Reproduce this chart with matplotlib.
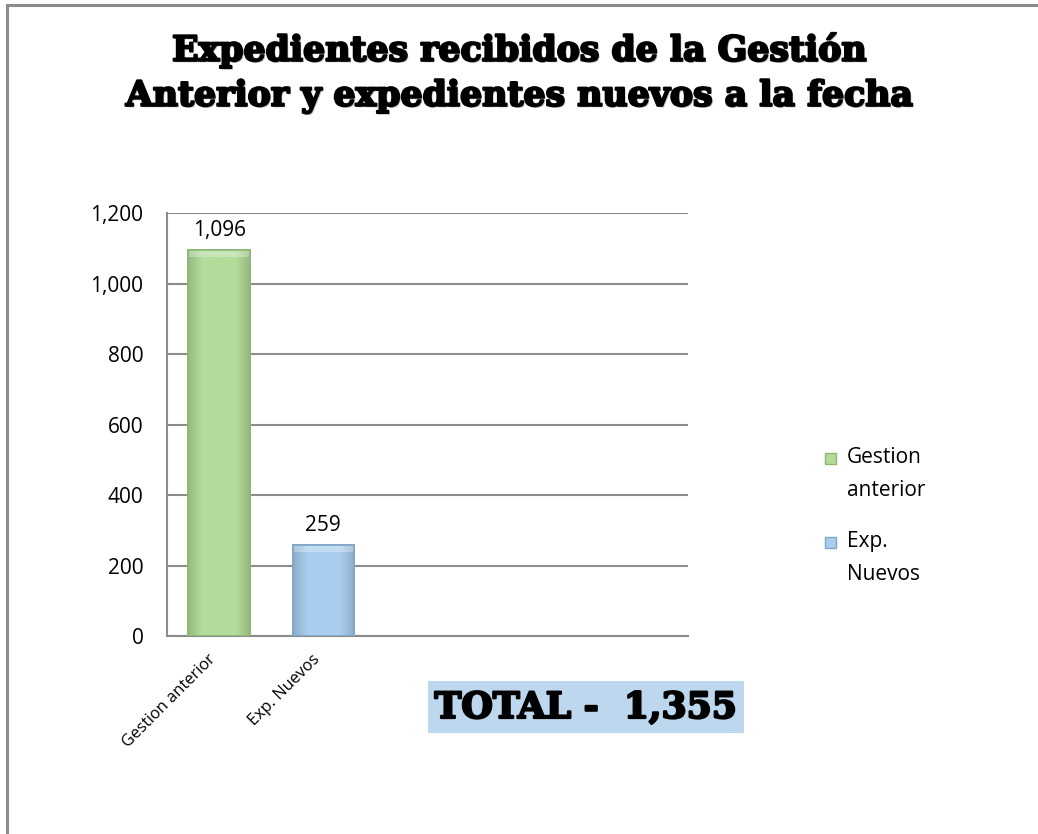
import matplotlib
matplotlib.use("Agg")
import matplotlib.pyplot as plt
import matplotlib.patheffects as pe
from matplotlib.patches import Rectangle
from matplotlib.lines import Line2D
import numpy as np

categories = ["Gestion anterior", "Exp. Nuevos"]
values = [1096, 259]
value_labels = ["1,096", "259"]
legend_labels = ["Gestion\nanterior", "Exp.\nNuevos"]
yticks = [0, 200, 400, 600, 800, 1000, 1200]
ytick_labels = ["0", "200", "400", "600", "800", "1,000", "1,200"]
title_lines = ["Expedientes recibidos de la Gestión", "Anterior y expedientes nuevos a la fecha"]
total_text = "TOTAL -  1,355"

face_colors = ["#B3DC9A", "#A9CDEF"]
edge_colors = ["#8CB873", "#7FA5C9"]

W, H = 1038, 834
fig = plt.figure(figsize=(W / 100, H / 100), dpi=100)
fig.patch.set_facecolor("white")

# outer frame (left and top edges)
fig.add_artist(Line2D([7 / W, 7 / W], [0, 1 - 5 / H], transform=fig.transFigure,
                      color="#8c8c8c", lw=2.2))
fig.add_artist(Line2D([7 / W, 1], [1 - 5 / H, 1 - 5 / H], transform=fig.transFigure,
                      color="#8c8c8c", lw=2.2))

ax = fig.add_axes([167 / W, 1 - 636 / H, (688 - 167) / W, (636 - 213) / H])
ax.set_xlim(-0.5, 4.5)
ax.set_ylim(0, 1200)

for s in ["top", "right"]:
    ax.spines[s].set_visible(False)
for s in ["left", "bottom"]:
    ax.spines[s].set_color("#8c8c8c")
    ax.spines[s].set_linewidth(1.5)

ax.set_yticks(yticks)
ax.set_yticklabels(ytick_labels, fontsize=15, family="Open Sans")
ax.tick_params(axis="y", length=0, pad=17)
ax.yaxis.grid(True, color="#8c8c8c", lw=1.5)
ax.set_axisbelow(True)

x = np.arange(len(categories))
bw = 0.59
bars = ax.bar(x, values, width=bw, color=face_colors, edgecolor=edge_colors,
              linewidth=1.2, zorder=3)

# bevel-like gradient overlay
for b, fc, ec in zip(bars, face_colors, edge_colors):
    bx, by = b.get_x(), b.get_y()
    bwid, bh = b.get_width(), b.get_height()
    n = 64
    t = np.linspace(0, 1, n)
    shade = 1 - 0.16 * np.clip(np.abs(t - 0.5) * 2 - 0.55, 0, 1) / 0.45
    base = np.array(matplotlib.colors.to_rgb(fc))
    img = np.clip(base[None, None, :] * shade[None, :, None], 0, 1)
    img = np.repeat(img, 2, axis=0)
    im = ax.imshow(img, extent=[bx, bx + bwid, by, by + bh], aspect="auto",
                   zorder=3.5, interpolation="bilinear")
    im.set_clip_path(b)
    ax.add_patch(Rectangle((bx, by + bh - 20), bwid, 20, facecolor="white",
                           alpha=0.3, lw=0, zorder=3.6))
    ax.add_patch(Rectangle((bx, by), bwid, bh, facecolor="none",
                           edgecolor=ec, lw=1.2, zorder=3.7))

for xi, v, lab in zip(x, values, value_labels):
    ax.annotate(lab, (xi, v), xytext=(0, 6), textcoords="offset points",
                ha="center", va="bottom", fontsize=15, family="Open Sans", color="black")

ax.set_xticks(x)
ax.set_xticklabels(categories, rotation=45, ha="right", rotation_mode="default",
                   fontsize=11.8, family="Open Sans")
ax.tick_params(axis="x", length=0, pad=11)

# title
heavy = [pe.withSimplePatchShadow(offset=(1.2, -1.2), shadow_rgbFace="#aaaaaa", alpha=0.7),
         pe.Stroke(linewidth=1.6, foreground="black"), pe.Normal()]
fig.text(0.5, 1 - 50 / H, title_lines[0], ha="center", va="center",
         fontsize=25, weight="heavy", family="DejaVu Serif", path_effects=heavy)
fig.text(0.5, 1 - 96 / H, title_lines[1], ha="center", va="center",
         fontsize=25, weight="heavy", family="DejaVu Serif", path_effects=heavy)

# legend (manual)
leg_y = [452, 536]
for fc, ec, lab, yy in zip(face_colors, edge_colors, legend_labels, leg_y):
    fig.patches.append(Rectangle((825 / W, 1 - (yy + 12) / H), 11 / W, 11 / H,
                                 transform=fig.transFigure, facecolor=fc,
                                 edgecolor=ec, lw=1))
    fig.text(847 / W, 1 - (yy - 5) / H, lab, ha="left", va="top",
             fontsize=15, family="Open Sans", linespacing=1.75)

# total box
fig.patches.append(Rectangle((428 / W, 1 - 733 / H), (744 - 428) / W, (733 - 681) / H,
                             transform=fig.transFigure, facecolor="#BDD7EE",
                             edgecolor="none"))
fig.text(586 / W, 1 - 708 / H, total_text, ha="center", va="center",
         fontsize=26, weight="heavy", family="DejaVu Serif",
         path_effects=[pe.Stroke(linewidth=1.6, foreground="black"), pe.Normal()])

fig.savefig("out.png", dpi=100)
